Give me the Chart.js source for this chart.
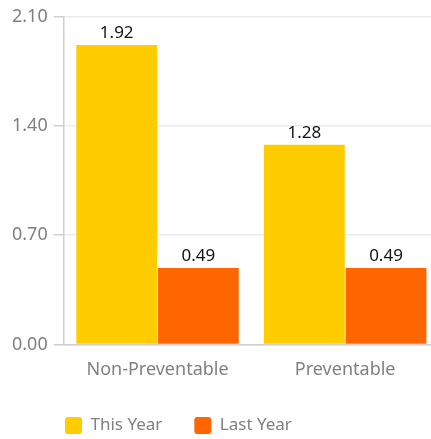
<!DOCTYPE html>
<html>
<head>
<meta charset="utf-8">
<script src="https://cdn.jsdelivr.net/npm/chart.js@4"></script>
<style>
  html, body { margin: 0; padding: 0; background: #fff; overflow: hidden; }
  #wrap { width: 439px; height: 439px; }
</style>
</head>
<body>
<div id="wrap"><canvas id="barChart"></canvas></div>
<script>
    const categories = ['Non-Preventable', 'Preventable'];
    const thisYear = [1.92, 1.28];
    const lastYear = [0.49, 0.49];
    const yTicks = [0, 0.70, 1.40, 2.10];

    const fontFamily = '"Noto Sans", "Open Sans", sans-serif';
    Chart.defaults.font.family = fontFamily;

    // value labels above each bar
    const valueLabels = {
        id: 'valueLabels',
        afterDatasetsDraw(chart) {
            const ctx = chart.ctx;
            ctx.save();
            ctx.font = '17px ' + fontFamily;
            ctx.fillStyle = '#111';
            ctx.textAlign = 'center';
            ctx.textBaseline = 'alphabetic';
            chart.data.datasets.forEach((ds, i) => {
                chart.getDatasetMeta(i).data.forEach((bar, j) => {
                    ctx.fillText(ds.data[j].toFixed(2), bar.x, bar.y - 7);
                });
            });
            ctx.restore();
        }
    };

    // fixed legend band, row starts under the y axis
    const legendPlace = {
        id: 'legendPlace',
        beforeLayout(chart) {
            const lg = chart.legend;
            if (lg && !lg._fixedFit) {
                const fit = lg.fit;
                lg.fit = function () {
                    fit.call(this);
                    this.height = 43;
                };
                lg._fixedFit = true;
            }
        },
        afterLayout(chart) {
            chart.legend.left = 33;
            chart.legend.top = 385;
        }
    };

    new Chart(document.getElementById('barChart'), {
        type: 'bar',
        data: {
            labels: categories,
            datasets: [{
                label: 'This Year',
                data: thisYear,
                backgroundColor: '#FFCC00'
            }, {
                label: 'Last Year',
                data: lastYear,
                backgroundColor: '#FF6600'
            }]
        },
        options: {
            responsive: true,
            maintainAspectRatio: false,
            animation: false,
            categoryPercentage: 0.87,
            barPercentage: 0.99,
            layout: {
                padding: { left: 6, right: 0, top: 8, bottom: 0 }
            },
            plugins: {
                tooltip: { enabled: false },
                legend: {
                    position: 'bottom',
                    align: 'start',
                    labels: {
                        boxWidth: 17,
                        boxHeight: 17,
                        useBorderRadius: true,
                        borderRadius: 3,
                        padding: 32,
                        color: '#808080',
                        font: { size: 17 }
                    }
                }
            },
            scales: {
                x: {
                    grid: { display: false, drawTicks: false },
                    border: { color: '#cfcfcf', width: 1.5 },
                    ticks: { color: '#808080', font: { size: 18 }, padding: 15 }
                },
                y: {
                    min: 0,
                    max: 2.10,
                    afterBuildTicks(scale) {
                        scale.ticks = yTicks.map(v => ({ value: v }));
                    },
                    grid: {
                        color: '#ececec',
                        tickColor: '#cfcfcf',
                        tickLength: 10,
                        lineWidth: 1.5
                    },
                    border: { color: '#cfcfcf', width: 1.5 },
                    ticks: {
                        color: '#808080',
                        font: { size: 18 },
                        padding: 6,
                        callback: v => v.toFixed(2)
                    }
                }
            }
        },
        plugins: [valueLabels, legendPlace]
    });
</script>
</body>
</html>
